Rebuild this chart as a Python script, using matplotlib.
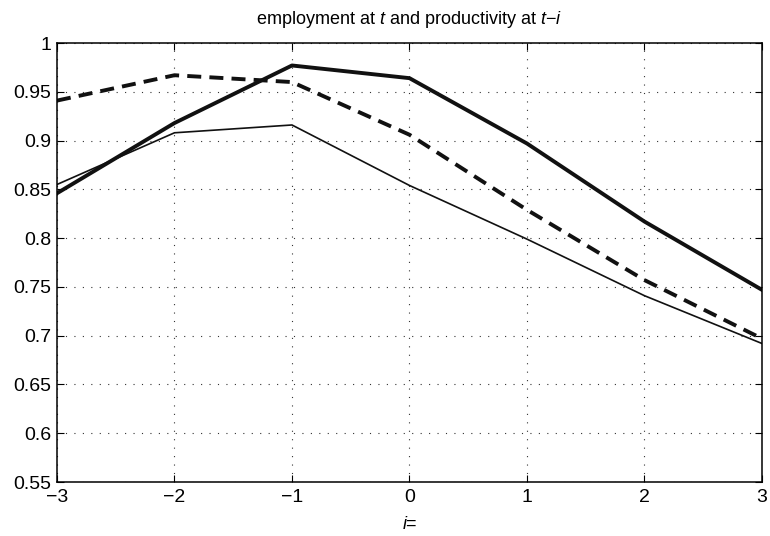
import matplotlib
matplotlib.use("Agg")
import matplotlib.pyplot as plt

lags = [-3, -2, -1, 0, 1, 2, 3]
corr_thick = [0.846, 0.918, 0.977, 0.964, 0.897, 0.817, 0.747]
corr_dashed = [0.941, 0.967, 0.960, 0.906, 0.829, 0.757, 0.697]
corr_thin = [0.855, 0.908, 0.916, 0.854, 0.799, 0.741, 0.692]

y_ticks = [0.55, 0.6, 0.65, 0.7, 0.75, 0.8, 0.85, 0.9, 0.95, 1]
y_labels = ["0.55", "0.6", "0.65", "0.7", "0.75", "0.8", "0.85", "0.9", "0.95", "1"]
x_labels = ["\u22123", "\u22122", "\u22121", "0", "1", "2", "3"]

plt.rcParams["font.family"] = ["Liberation Sans", "DejaVu Sans"]
plt.rcParams["mathtext.fontset"] = "custom"
plt.rcParams["mathtext.it"] = "Liberation Sans:italic"
plt.rcParams["mathtext.rm"] = "Liberation Sans"

fig = plt.figure(figsize=(7.7, 5.36), dpi=100)
ax = fig.add_axes([0.074, 0.1007, 0.9156, 0.819])

ax.plot(lags, corr_thick, color="#111111", lw=2.8)
ax.plot(lags, corr_dashed, color="#111111", lw=2.8, dashes=(3.6, 2.1))
ax.plot(lags, corr_thin, color="#111111", lw=1.2)

ax.set_xlim(-3, 3)
ax.set_ylim(0.55, 1)
ax.set_xticks(lags)
ax.set_xticklabels(x_labels)
ax.set_yticks(y_ticks)
ax.set_yticklabels(y_labels)

ax.grid(True, linestyle=(0, (1, 6.6)), color="#333333", lw=0.8)
ax.tick_params(direction="in", top=True, right=True, labelsize=14, length=5)
ax.tick_params(axis="x", pad=5)
ax.tick_params(axis="y", pad=4)
for s in ax.spines.values():
    s.set_linewidth(1.1)

ax.set_title("employment at $t$ and productivity at $t$\u2212$i$", fontsize=13, pad=14)
ax.set_xlabel("$i$=", fontsize=13, labelpad=7)

fig.savefig("out.png", dpi=100)
